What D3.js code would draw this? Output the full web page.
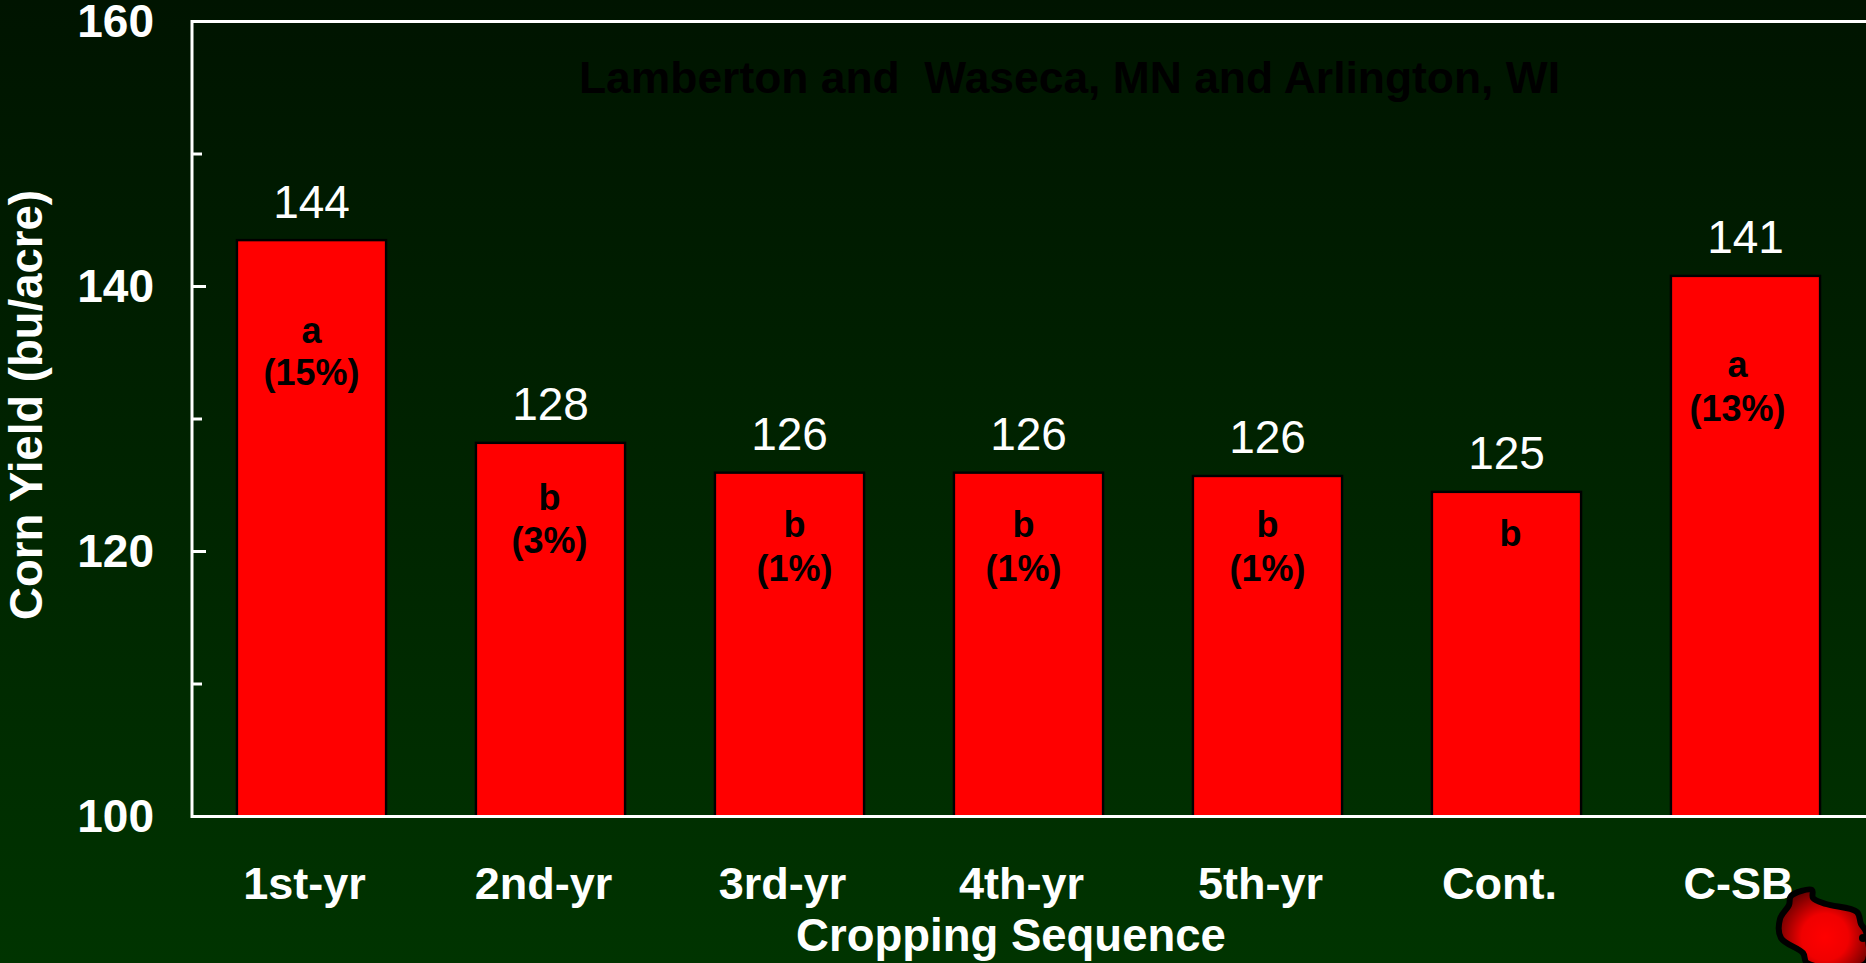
<!DOCTYPE html>
<html><head><meta charset="utf-8">
<style>html,body{margin:0;padding:0;background:#001400;overflow:hidden}svg{display:block}text{font-family:"Liberation Sans",Arial,sans-serif}</style>
<script src="https://cdn.jsdelivr.net/npm/d3@7"></script></head><body>
<script>
const categories=["1st-yr","2nd-yr","3rd-yr","4th-yr","5th-yr","Cont.","C-SB"];
const yields=[143.5,128.2,125.95,125.95,125.7,124.5,140.8];
const valueLabels=["144","128","126","126","126","125","141"];
const letters=["a","b","b","b","b","b","a"];
const percents=["(15%)","(3%)","(1%)","(1%)","(1%)","","(13%)"];
const yTicks=[100,120,140,160];
const yMinorTicks=[110,130,150];
const titleText="Lamberton and  Waseca, MN and Arlington, WI";
const W=1866,H=963;
const svg=d3.select("body").append("svg").attr("width",W).attr("height",H);
const defs=svg.append("defs");
const bg=defs.append("linearGradient").attr("id","bg").attr("x1",0).attr("y1",0).attr("x2",0).attr("y2",1);
bg.append("stop").attr("offset",0).attr("stop-color","#001400");
bg.append("stop").attr("offset",1).attr("stop-color","#003400");
const rg=defs.append("radialGradient").attr("id","wi").attr("gradientUnits","userSpaceOnUse").attr("cx",1825).attr("cy",937).attr("r",52);
rg.append("stop").attr("offset",0).attr("stop-color","#ff0000");
rg.append("stop").attr("offset",0.45).attr("stop-color","#f00000");
rg.append("stop").attr("offset",1).attr("stop-color","#5a0000");
svg.append("rect").attr("width",W).attr("height",H).attr("fill","url(#bg)");
const x=d3.scaleBand().domain(categories).range([192,1865]).paddingInner(0.376).paddingOuter(0.188);
const y=d3.scaleLinear().domain([100,160]).range([816.5,21.5]);
svg.selectAll("rect.bar").data(categories).join("rect").attr("class","bar")
 .attr("x",d=>x(d)).attr("width",x.bandwidth())
 .attr("y",(d,i)=>y(yields[i])).attr("height",(d,i)=>y(100)-y(yields[i]))
 .attr("fill","#ff0000").attr("stroke","#000").attr("stroke-width",2.4);
const axisY=svg.append("g").attr("transform","translate(192,0)");
axisY.call(d3.axisLeft(y).tickValues(yTicks).tickSize(0).tickPadding(38).tickFormat(d3.format("d")));
axisY.select(".domain").remove();
axisY.selectAll("text").attr("fill","#fff").style("font-size","46px").style("font-weight","700").style("font-family",'"Liberation Sans"');
axisY.selectAll("line.maj").data(yTicks).join("line").attr("class","maj").attr("x1",0).attr("x2",14).attr("y1",d=>y(d)).attr("y2",d=>y(d)).attr("stroke","#fff").attr("stroke-width",3);
axisY.selectAll("line.min").data(yMinorTicks).join("line").attr("class","min").attr("x1",0).attr("x2",10).attr("y1",d=>y(d)).attr("y2",d=>y(d)).attr("stroke","#fff").attr("stroke-width",3);
svg.append("line").attr("x1",192).attr("x2",192).attr("y1",y(160)-1.5).attr("y2",y(100)+1.5).attr("stroke","#fff").attr("stroke-width",3);
svg.append("line").attr("x1",192).attr("x2",W).attr("y1",y(160)).attr("y2",y(160)).attr("stroke","#fff").attr("stroke-width",3);
svg.append("line").attr("x1",192).attr("x2",W).attr("y1",y(100)).attr("y2",y(100)).attr("stroke","#fff").attr("stroke-width",3);
const mid=c=>x(c)+x.bandwidth()/2;
// hand placement of the annotations inside the bars, as in the original slide
const annotDx=[0,-1,5,-5,0,4,-8];
const letterBase=[343,509.5,536.5,536.5,536.5,546,377];
const pctBase=[384.5,552.5,580.5,580.5,580.5,0,421];
svg.selectAll("text.val").data(categories).join("text").attr("class","val")
 .attr("x",d=>mid(d)).attr("y",(d,i)=>y(yields[i])-22.5).attr("text-anchor","middle")
 .attr("fill","#fff").style("font-size","46px").text((d,i)=>valueLabels[i]);
svg.selectAll("text.let").data(categories).join("text").attr("class","let")
 .attr("x",(d,i)=>mid(d)+annotDx[i]).attr("y",(d,i)=>letterBase[i]).attr("text-anchor","middle")
 .attr("fill","#000").style("font-size","36px").style("font-weight","700").text((d,i)=>letters[i]);
svg.selectAll("text.pct").data(categories).join("text").attr("class","pct")
 .attr("x",(d,i)=>mid(d)+annotDx[i]).attr("y",(d,i)=>pctBase[i]).attr("text-anchor","middle")
 .attr("fill","#000").style("font-size","36px").style("font-weight","700").text((d,i)=>percents[i]);
svg.selectAll("text.cat").data(categories).join("text").attr("class","cat")
 .attr("x",d=>mid(d)-7).attr("y",899).attr("text-anchor","middle")
 .attr("fill","#fff").style("font-size","45px").style("font-weight","700").text(d=>d);
svg.append("text").attr("x",1011).attr("y",950.5).attr("text-anchor","middle").attr("fill","#fff").style("font-size","45.5px").style("font-weight","700").text("Cropping Sequence");
svg.append("text").attr("transform","translate(42,405) rotate(-90)").attr("text-anchor","middle").attr("fill","#fff").style("font-size","45.5px").style("font-weight","700").text("Corn Yield (bu/acre)");
svg.append("text").attr("x",1069.5).attr("y",93).attr("text-anchor","middle").attr("fill","#000").style("font-size","44px").style("font-weight","700").attr("textLength",981).attr("lengthAdjust","spacingAndGlyphs").style("white-space","pre").text(titleText);
// Wisconsin emblem
const wi=[[1791,896],[1812,890],[1813,898],[1826,904],[1857,912],[1861,924],[1866,932],[1866,963],[1807,963],[1803,953],[1781,938],[1780,919],[1789,905]];
svg.append("path").attr("d",d3.line().curve(d3.curveCatmullRomClosed)(wi)).attr("fill","url(#wi)").attr("stroke","#000").attr("stroke-width",6).attr("stroke-linejoin","round");
svg.append("circle").attr("cx",1863).attr("cy",938).attr("r",4).attr("fill","#000");
</script></body></html>
